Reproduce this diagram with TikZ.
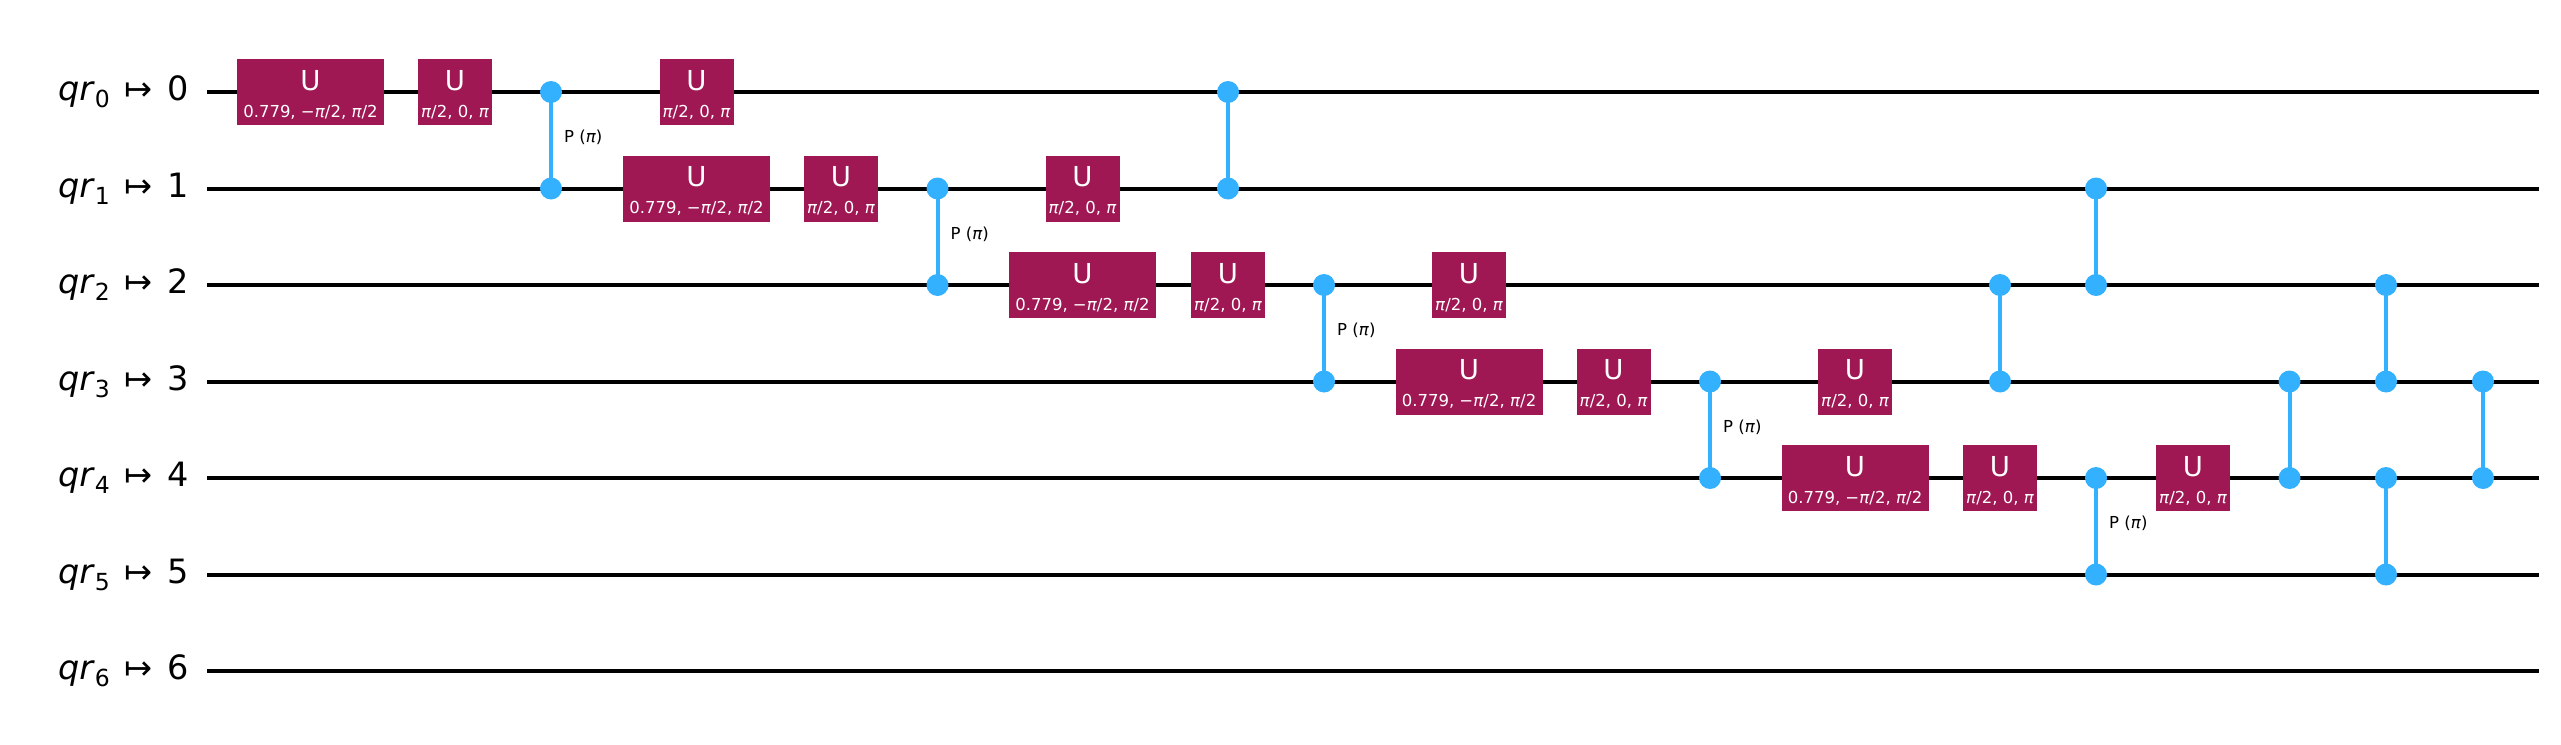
\documentclass[tikz,border=0pt]{standalone}
\usepackage{fontspec}
\setmainfont{DejaVu Sans}
\definecolor{gatecol}{HTML}{9F1853}
\definecolor{ctrlcol}{HTML}{33B1FF}
\newcommand{\pii}{\textit{π}}
\newcommand{\ParamBig}{0.779, −\pii/2, \pii/2}
\newcommand{\ParamSmall}{\pii/2, 0, \pii}
\newcommand{\QLabel}[1]{{\fontsize{33.5}{33.5}\selectfont\textit{qr}\raisebox{-7pt}{\fontsize{23.5}{23.5}\selectfont #1}\hspace{15pt}↦\hspace{15pt}#1}}
\tikzset{
  x=1pt,y=-1pt,
  wire/.style={draw=black,line width=4pt},
  gatebox/.style={fill=gatecol,draw=none,minimum height=66pt,inner sep=0pt,outer sep=0pt},
  bigbox/.style={gatebox,minimum width=147pt},
  smallbox/.style={gatebox,minimum width=74pt},
  gatename/.style={text=white,font=\fontsize{27.5}{27.5}\selectfont,anchor=base,inner sep=0pt},
  gateparam/.style={text=white,font=\fontsize{16.5}{16.5}\selectfont,anchor=base,inner sep=0pt},
  ctrl/.style={circle,fill=ctrlcol,draw=none,minimum size=22pt,inner sep=0pt,outer sep=0pt},
  ctrlline/.style={draw=ctrlcol,line width=4pt},
  plabel/.style={text=black,font=\fontsize{16.5}{16.5}\selectfont,anchor=base west,inner sep=0pt},
  qlabel/.style={text=black,anchor=base east,inner sep=0pt},
}
\newcommand{\RowY}[1]{(92+96.5*#1)}
\newcommand{\UBig}[3]{%
  \node[bigbox] (#1) at (#2,{\RowY{#3}}) {};
  \node[gatename] (#1n) at (#2,{\RowY{#3}-1.7}) {U};
  \node[gateparam] (#1p) at (#2,{\RowY{#3}+25}) {\ParamBig};}
\newcommand{\USmall}[3]{%
  \node[smallbox] (#1) at (#2,{\RowY{#3}}) {};
  \node[gatename] (#1n) at (#2,{\RowY{#3}-1.7}) {U};
  \node[gateparam] (#1p) at (#2,{\RowY{#3}+25}) {\ParamSmall};}
\newcommand{\CZ}[4]{%
  \node[ctrl] (#1a) at (#2,{\RowY{#3}}) {};
  \node[ctrl] (#1b) at (#2,{\RowY{#4}}) {};
  \draw[ctrlline] (#1a.center) -- (#1b.center);}
\newcommand{\CP}[4]{%
  \CZ{#1}{#2}{#3}{#4}
  \node[plabel] (#1l) at ({#2+13},{(\RowY{#3}+\RowY{#4})/2+2.3}) {P (\pii)};}
\begin{document}
\begin{tikzpicture}
\useasboundingbox[fill=white] (0,0) rectangle (2561,744);
% wires
\foreach \r in {0,...,6}{
  \coordinate (ws\r) at (207,{\RowY{\r}});
  \coordinate (we\r) at (2539,{\RowY{\r}});
  \draw[wire] (ws\r) -- (we\r);
  \node[qlabel] (lab\r) at (189.5,{\RowY{\r}+8.5}) {\QLabel{\r}};
}
% row 0
\UBig{a0}{310.5}{0}
\USmall{b0}{455}{0}
\CP{c0}{551}{0}{1}
\USmall{d0}{696.5}{0}
% row 1
\UBig{a1}{696.5}{1}
\USmall{b1}{841}{1}
\CP{c1}{937.5}{1}{2}
\USmall{d1}{1082.5}{1}
% row 2
\UBig{a2}{1082.5}{2}
\USmall{b2}{1228}{2}
\CP{c2}{1324}{2}{3}
\USmall{d2}{1469}{2}
% row 3
\UBig{a3}{1469}{3}
\USmall{b3}{1613.5}{3}
\CP{c3}{1710}{3}{4}
\USmall{d3}{1855}{3}
% row 4
\UBig{a4}{1855}{4}
\USmall{b4}{2000}{4}
\CP{c4}{2096}{4}{5}
\USmall{d4}{2193}{4}
% remaining controlled gates
\CZ{e1}{1228}{0}{1}
\CZ{e2}{2000}{2}{3}
\CZ{e3}{2096}{1}{2}
\CZ{e4}{2289.5}{3}{4}
\CZ{e5}{2386}{2}{3}
\CZ{e6}{2386}{4}{5}
\CZ{e7}{2483}{3}{4}
\end{tikzpicture}
\end{document}
